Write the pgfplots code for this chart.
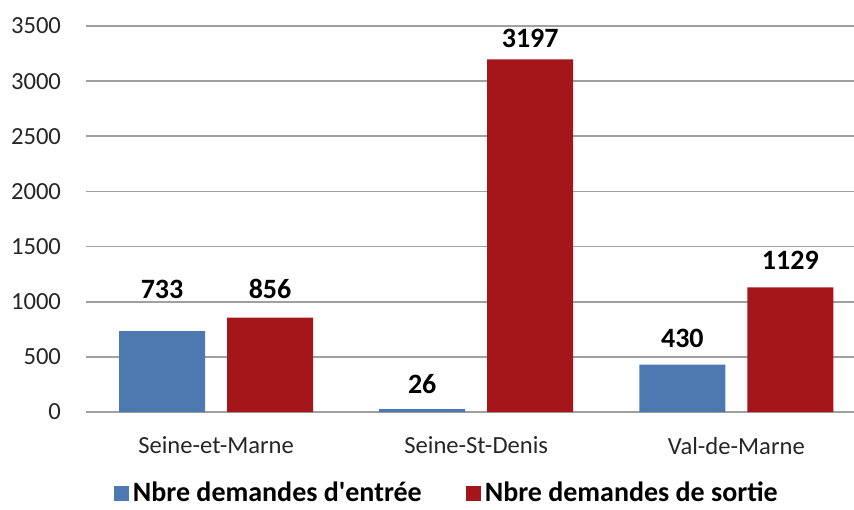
\documentclass[border=0pt]{standalone}
\usepackage{fontspec}
\setmainfont{Carlito}
\usepackage{pgfplots}
\pgfplotsset{compat=1.18}
\definecolor{cEnt}{HTML}{4E78B0}
\definecolor{cSor}{HTML}{A5161B}
\definecolor{cGrid}{HTML}{A0A0A0}
\tikzset{lbl/.style={font=\bfseries\fontsize{14}{16}\selectfont, text=black, anchor=center, inner sep=0pt}}
\begin{document}
\begin{tikzpicture}
\begin{axis}[
    scale only axis, width=385pt, height=193pt,
    ybar, bar width=43pt,
    ymin=0, ymax=3500, ytick={0,500,...,3500},
    xmin=-0.5, xmax=2.46,
    xtick={0,1,2}, xticklabels={Seine-et-Marne,Seine-St-Denis,Val-de-Marne},
    axis x line*=bottom, axis y line*=left,
    x axis line style={cGrid, line width=1pt, -},
    y axis line style={draw=none},
    ymajorgrids, grid style={cGrid, line width=0.9pt},
    major tick length=0pt,
    tick label style={font=\fontsize{12.3}{14}\selectfont, text=black!85},
    /pgf/number format/assume math mode=true,
    /pgf/number format/1000 sep={},
    yticklabel style={xshift=-9pt},
    xticklabel style={yshift=-9pt},
    legend style={at={(0.47,-0.21)}, anchor=center, draw=none, fill=none,
      legend columns=2, font=\bfseries\fontsize{14}{16}\selectfont,
      /tikz/every even column/.append style={column sep=20pt}},
    legend image code/.code={\fill[#1] (0pt,-3.75pt) rectangle (7.5pt,3.75pt);},
    clip=false,
]
\addplot[fill=cEnt, draw=none, bar shift=-27pt] coordinates {(0,733) (1,26) (2,430)};
\addplot[fill=cSor, draw=none, bar shift=27pt] coordinates {(0,856) (1,3197) (2,1129)};
\legend{Nbre demandes d\textquotesingle entrée, Nbre demandes de sortie}
% data labels, placed as in the source chart
\node[lbl, xshift=-27pt] at (axis cs:0,1115) {733};
\node[lbl, xshift=27pt] at (axis cs:0,1115) {856};
\node[lbl, xshift=-27pt] at (axis cs:1,258) {26};
\node[lbl, xshift=27pt] at (axis cs:1,3391) {3197};
\node[lbl, xshift=-27pt] at (axis cs:2,671) {430};
\node[lbl, xshift=27pt] at (axis cs:2,1374) {1129};
\end{axis}
\pgfresetboundingbox
\path[use as bounding box] (current axis.south west) ++(-43pt,-48.5pt) rectangle ++(427pt,254.5pt);
\end{tikzpicture}
\end{document}
